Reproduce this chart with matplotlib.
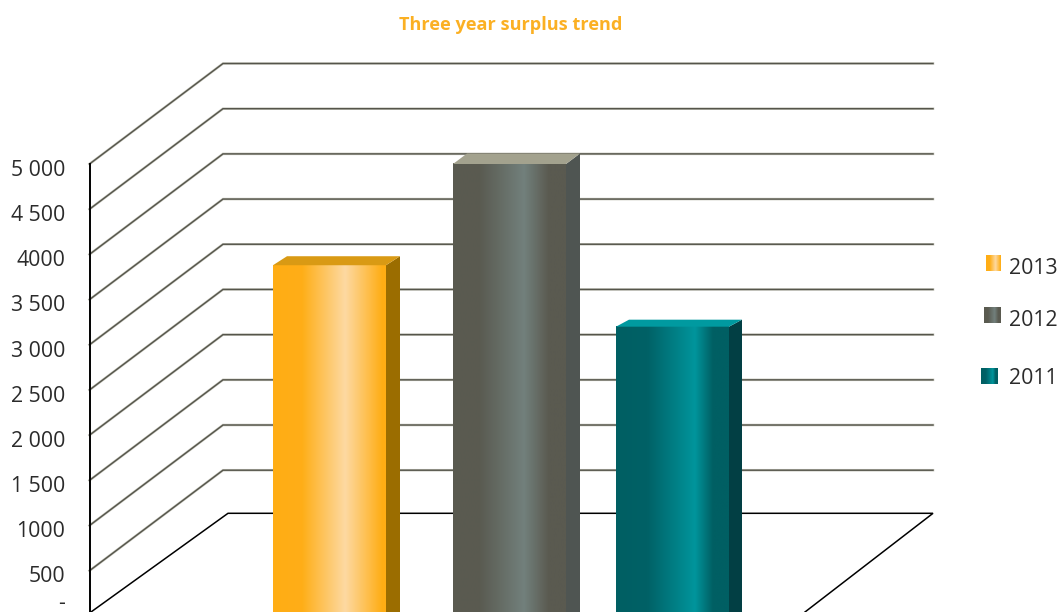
#!/usr/bin/env python3
"""
Three year surplus trend, drawn as a pseudo-3D bar chart.
"""

import numpy as np
import matplotlib.pyplot as plt
from matplotlib.colors import LinearSegmentedColormap
from matplotlib.patches import Polygon

plt.rcParams['font.family'] = ['Open Sans', 'DejaVu Sans']

# Chart data
years = ['2013', '2012', '2011']
surplus = [3880, 5000, 3200]
grid_values = [500, 1000, 1500, 2000, 2500, 3000, 3500, 4000, 4500, 5000]
tick_labels = ['500', '1000', '1 500', '2 000', '2 500', '3 000', '3 500', '4000', '4 500', '5 000']

# Layout, x in pixels and y in value units
W, H = 1058, 612
PX_PER_UNIT = 0.09038
ZERO_PX = 615.9
FRONT_X, BACK_X, RIGHT_X = 89.5, 223, 933
WALL_RISE = 100.5 / PX_PER_UNIT
FLOOR_RISE = 102.6 / PX_PER_UNIT

bar_lefts = [273, 453, 616]
bar_width = 113
side_width = [14, 14, 13]
top_rise = [9, 10.5, 7]

# (position, colour) gradient stops across the front of each bar
bar_stops = [
    [(0, '#ffad14'), (0.26, '#ffae18'), (0.64, '#fdd9a2'), (0.97, '#ffad14'), (1, '#ffad14')],
    [(0, '#5a5a50'), (0.24, '#5a5b51'), (0.63, '#72807c'), (0.85, '#5a5a50'), (1, '#5a5a50')],
    [(0, '#005f63'), (0.28, '#006166'), (0.70, '#00959c'), (0.86, '#005f63'), (1, '#005f63')],
]
side_colors = ['#9b6d00', '#4f5552', '#023f44']
top_colors = ['#d99a14', '#a3a28e', '#009aa0']

legend_boxes = [(986, 255, 15, 16), (984, 307, 17, 16), (981, 368, 17, 16)]
legend_text_y = [268, 320, 379]
TEXT_SIZE = 15.3
TEXT_COLOR = '#2b2b2b'


def y_val(px):
    """Convert a pixel row to value units."""
    return (ZERO_PX - px) / PX_PER_UNIT


def gradient(ax, stops, x0, x1, y0, y1, zorder):
    cmap = LinearSegmentedColormap.from_list('bar', stops)
    ramp = np.linspace(0, 1, 256).reshape(1, -1)
    ax.imshow(ramp, cmap=cmap, extent=(x0, x1, y0, y1), aspect='auto',
              interpolation='bilinear', zorder=zorder)


fig = plt.figure(figsize=(W / 100, H / 100), dpi=100)
ax = fig.add_axes([0, 0, 1, 1])

# Walls: each gridline runs back from the front edge, then across the back
for v in grid_values:
    xs = [FRONT_X, BACK_X, RIGHT_X]
    ys = [v, v + WALL_RISE, v + WALL_RISE]
    ax.plot(xs, ys, color='#c4c4ba', lw=1.8, zorder=1, solid_joinstyle='miter')
    ax.plot(xs, ys, color='#55554b', lw=1.0, zorder=1.1, solid_joinstyle='miter')

# Front axis and floor outline
ax.plot([FRONT_X, FRONT_X], [y_val(H), 5000], color='black', lw=1.4, zorder=2)
ax.plot([91, 228, RIGHT_X, 805], [y_val(612), FLOOR_RISE, FLOOR_RISE, y_val(612)],
        color='black', lw=1.1, zorder=2, solid_joinstyle='miter')

# Bars
for i, value in enumerate(surplus):
    left = bar_lefts[i]
    right = left + bar_width
    rise = top_rise[i] / PX_PER_UNIT
    gradient(ax, bar_stops[i], left, right, 0, value, 3)
    ax.add_patch(Polygon([(right, 0), (right, value), (right + side_width[i], value + rise),
                          (right + side_width[i], 0)], color=side_colors[i], lw=0, zorder=3))
    ax.add_patch(Polygon([(left, value), (left + side_width[i], value + rise),
                          (right + side_width[i], value + rise), (right, value)],
                         color=top_colors[i], lw=0, zorder=3))

# Value labels beside the front axis
for v, label in zip(grid_values, tick_labels):
    ax.annotate(label, (65, v), xytext=(0, -4.5), textcoords='offset points',
                ha='right', va='center', fontsize=TEXT_SIZE, color=TEXT_COLOR)
ax.text(65, y_val(604), '-', ha='right', va='center', fontsize=TEXT_SIZE, color=TEXT_COLOR)

# Legend swatches use the bar gradients
for i, year in enumerate(years):
    x, y, w, h = legend_boxes[i]
    gradient(ax, bar_stops[i], x, x + w, y_val(y + h), y_val(y), 3)
    ax.text(1009, y_val(legend_text_y[i]), year, ha='left', va='center',
            fontsize=TEXT_SIZE, color=TEXT_COLOR)

ax.text(511, y_val(24.5), 'Three year surplus trend', ha='center', va='center',
        fontsize=13.1, fontweight='bold', color='#fbb023')

ax.set_xlim(0, W)
ax.set_ylim(y_val(H), y_val(0))
ax.axis('off')

fig.savefig('out.png', dpi=100, facecolor='white')
